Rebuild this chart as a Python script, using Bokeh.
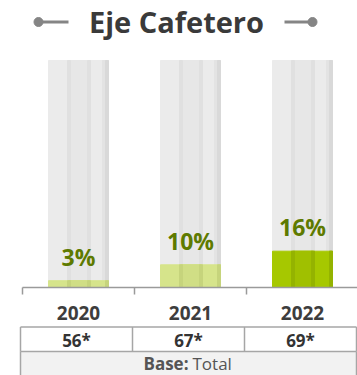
from bokeh.plotting import figure
from bokeh.models import Range1d, LinearAxis, FixedTicker
from bokeh.core.properties import value
from bokeh.embed import file_html
from bokeh.resources import INLINE

# ---------------- data ----------------
title = "Eje Cafetero"
years = ["2020", "2021", "2022"]
shares = [3, 10, 16]            # % values
bases = ["56*", "67*", "69*"]
base_label = "Base:"
base_value = "Total"

# ---------------- styling / layout ----------------
fill_colors = ["#d6e48b", "#d6e48b", "#a6c800"]
band_colors = ["#d0de85", "#d0de85", "#a0c000"]
edge_colors = ["#c6d47c", "#c6d47c", "#94b300"]
label_color = "#5e7a00"
FONT = "Open Sans"

W, H = 357, 375
PX_PER_PCT = 2.27   # pixels per percentage point
BASE_Y = 287        # pixel row of 0 %
X0 = 78             # pixel column of first bar centre
STEP = 112          # pixels between bar centres


def dx(px):
    return (px - X0) / STEP


def dy(py):
    return (BASE_Y - py) / PX_PER_PCT


def off(px):  # horizontal pixel offset relative to bar centre -> data
    return px / STEP


p = figure(width=W, height=H, output_backend="svg", toolbar_location=None,
           x_range=Range1d(dx(0), dx(W)), y_range=Range1d(dy(H), dy(0)),
           x_axis_type=None, y_axis_type=None, min_border=0,
           outline_line_color=None, background_fill_color="white",
           border_fill_color="white")
p.grid.visible = False
p.styles = {"margin": "0px"}

xs = list(range(len(years)))
BW = 60  # bar width px

# background cylinders (100 %)
full = [100] * len(xs)
p.vbar(x=xs, top=full, bottom=0, width=off(BW), color="#ebebeb")
p.vbar(x=[x + off(-30 + 30.5) for x in xs], top=full, bottom=0, width=off(19), color="#e7e7e7")
for a, b, c in [(19, 22, "#e0e0e0"), (39, 42, "#e0e0e0"), (54, 57, "#e3e3e3"), (57, 60, "#d9d9d9")]:
    p.vbar(x=[x + off(-30 + (a + b) / 2) for x in xs], top=full, bottom=0,
           width=off(b - a), color=c)

# value fills
p.vbar(x=xs, top=shares, bottom=0, width=off(BW), color=fill_colors)
p.vbar(x=[x + off(-30 + 30.5) for x in xs], top=shares, bottom=0, width=off(19), color=band_colors)
for a, b in [(19, 22), (39, 42), (57, 60)]:
    p.vbar(x=[x + off(-30 + (a + b) / 2) for x in xs], top=shares, bottom=0,
           width=off(b - a), color=edge_colors)

# percentage labels
p.text(x=xs, y=[s + 24 / PX_PER_PCT for s in shares], text=[f"{s}%" for s in shares],
       text_align="center", text_baseline="middle", text_font=value(FONT),
       text_font_style="bold", text_font_size="23px", text_color=label_color)

# baseline axis with boundary ticks
tick_pos = [x - 0.5 for x in xs]
ax = LinearAxis(fixed_location=0, ticker=FixedTicker(ticks=tick_pos),
                bounds=(-0.5, dx(W)), axis_line_color="#9a9a9a", axis_line_width=1.5,
                major_tick_line_color="#9a9a9a", major_tick_line_width=1.5,
                major_tick_in=0, major_tick_out=7, minor_tick_line_color=None,
                major_label_overrides={t: "" for t in tick_pos})
p.add_layout(ax, "below")

# year labels axis
yax = LinearAxis(fixed_location=0, ticker=FixedTicker(ticks=xs),
                 major_label_overrides={x: y for x, y in zip(xs, years)},
                 axis_line_color=None, major_tick_line_color=None,
                 minor_tick_line_color=None, major_tick_in=0, major_tick_out=0,
                 major_label_standoff=18, major_label_text_font=FONT,
                 major_label_text_font_style="bold", major_label_text_font_size="19px",
                 major_label_text_color="#3d3d3d")
p.add_layout(yax, "below")

# title with decorative lines
p.text(x=[dx(176)], y=[dy(21)], text=[title], text_align="center", text_baseline="middle",
       text_font=value(FONT), text_font_style="bold", text_font_size="29px",
       text_color="#3a3a3a")
p.segment(x0=[dx(38), dx(284)], y0=[dy(21.5)] * 2, x1=[dx(68), dx(312)], y1=[dy(21.5)] * 2,
          line_color="#858585", line_width=3)
p.scatter(x=[dx(38), dx(312)], y=[dy(21.5)] * 2, size=9, color="#858585")

# table
L, R = dx(20), dx(356)
T1, T2, T3 = dy(326.5), dy(351), dy(H + 5)
p.quad(left=[L], right=[R], top=[T2], bottom=[T3], color="#f2f2f2")
col_edges = [x - 0.5 - off(2) for x in xs] + [R]
p.segment(x0=[L, L], y0=[T1, T2], x1=[R, R], y1=[T1, T2], line_color="#a6a6a6", line_width=1.5)
p.segment(x0=col_edges, y0=[T1] * 4, x1=col_edges, y1=[T2] * 4, line_color="#a6a6a6", line_width=1.5)
p.segment(x0=[L, R], y0=[T2, T2], x1=[L, R], y1=[T3, T3], line_color="#a6a6a6", line_width=1.5)
p.text(x=[x - off(2) for x in xs], y=[dy(340)] * 3, text=bases, text_align="center",
       text_baseline="middle", text_font=value(FONT), text_font_style="bold",
       text_font_size="17px", text_color="#333333")
p.text(x=[dx(188)], y=[dy(363)], text=[base_label], text_align="right", text_baseline="middle",
       text_font=value(FONT), text_font_style="bold", text_font_size="17px", text_color="#555555")
p.text(x=[dx(192)], y=[dy(363)], text=[base_value], text_align="left", text_baseline="middle",
       text_font=value(FONT), text_font_size="17px", text_color="#555555")

open("out.html", "w").write(file_html(p, INLINE))
